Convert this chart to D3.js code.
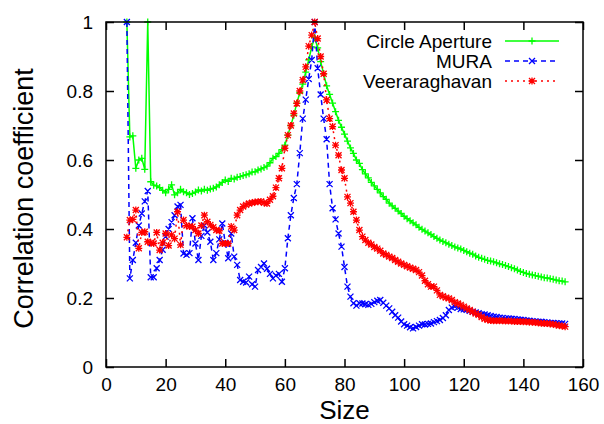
<!DOCTYPE html>
<html>
<head>
<meta charset="utf-8">
<script src="https://cdn.jsdelivr.net/npm/d3@7/dist/d3.min.js"></script>
<style>
  html, body { margin: 0; padding: 0; background: #fff; }
  svg { display: block; font-family: "Liberation Sans", Arial, Helvetica, sans-serif; }
</style>
</head>
<body>
<svg id="chart" width="604" height="424"></svg>
<script>
// Aperture sizes (x values)
const sizes = [
  7, 8, 9, 10, 11, 12, 13, 14, 15, 16, 17, 18, 19, 20, 21, 22, 23, 24, 25, 26,
  27, 28, 29, 30, 31, 32, 33, 34, 35, 36, 37, 38, 39, 40, 41, 42, 43, 44, 45, 46,
  47, 48, 49, 50, 51, 52, 53, 54, 55, 56, 57, 58, 59, 60, 61, 62, 63, 64, 65, 66,
  67, 68, 69, 70, 71, 72, 73, 74, 75, 76, 77, 78, 79, 80, 81, 82, 83, 84, 85, 86,
  87, 88, 89, 90, 91, 92, 93, 94, 95, 96, 97, 98, 99, 100, 101, 102, 103, 104, 105, 106,
  107, 108, 109, 110, 111, 112, 113, 114, 115, 116, 117, 118, 119, 120, 121, 122, 123, 124, 125, 126,
  127, 128, 129, 130, 131, 132, 133, 134, 135, 136, 137, 138, 139, 140, 141, 142, 143, 144, 145, 146,
  147, 148, 149, 150, 151, 152, 153, 154
];

// Correlation coefficient, circular aperture
const circleAperture = [
  1.0, 0.667, 0.67, 0.576, 0.60, 0.605, 0.573, 1.0, 0.537, 0.527, 0.525, 0.52, 0.512, 0.505, 0.515, 0.528, 0.499, 0.505, 0.515, 0.508,
  0.505, 0.50, 0.503, 0.507, 0.513, 0.51, 0.515, 0.512, 0.516, 0.518, 0.522, 0.528, 0.535, 0.542, 0.538, 0.547, 0.545, 0.55, 0.552, 0.555,
  0.557, 0.56, 0.565, 0.566, 0.571, 0.574, 0.578, 0.582, 0.592, 0.605, 0.61, 0.619, 0.63, 0.643, 0.672, 0.70, 0.73, 0.765, 0.795, 0.82,
  0.855, 0.89, 0.928, 0.955, 0.925, 0.885, 0.85, 0.815, 0.79, 0.765, 0.74, 0.715, 0.695, 0.675, 0.655, 0.635, 0.619, 0.60, 0.59, 0.572,
  0.56, 0.548, 0.535, 0.525, 0.515, 0.505, 0.494, 0.486, 0.475, 0.467, 0.46, 0.452, 0.445, 0.437, 0.43, 0.424, 0.418, 0.412, 0.405, 0.399,
  0.394, 0.389, 0.384, 0.378, 0.373, 0.368, 0.364, 0.36, 0.356, 0.352, 0.348, 0.345, 0.342, 0.338, 0.334, 0.33, 0.327, 0.322, 0.318, 0.315,
  0.312, 0.309, 0.307, 0.305, 0.302, 0.299, 0.297, 0.294, 0.291, 0.288, 0.285, 0.281, 0.277, 0.274, 0.271, 0.269, 0.267, 0.265, 0.263, 0.261,
  0.259, 0.258, 0.256, 0.254, 0.252, 0.25, 0.249, 0.247
];

// Correlation coefficient, MURA mask
const mura = [
  1.0, 0.257, 0.31, 0.36, 0.41, 0.445, 0.48, 0.51, 0.26, 0.26, 0.286, 0.31, 0.34, 0.378, 0.40, 0.42, 0.44, 0.465, 0.47, 0.329,
  0.325, 0.33, 0.431, 0.358, 0.31, 0.38, 0.41, 0.39, 0.363, 0.31, 0.33, 0.37, 0.416, 0.36, 0.315, 0.387, 0.32, 0.296, 0.252, 0.247,
  0.245, 0.262, 0.24, 0.233, 0.281, 0.29, 0.30, 0.285, 0.27, 0.257, 0.265, 0.27, 0.247, 0.286, 0.373, 0.44, 0.49, 0.53, 0.62, 0.72,
  0.775, 0.835, 0.89, 1.0, 0.866, 0.79, 0.72, 0.66, 0.53, 0.46, 0.428, 0.387, 0.349, 0.29, 0.233, 0.204, 0.185, 0.178, 0.185, 0.184,
  0.182, 0.18, 0.183, 0.188, 0.192, 0.194, 0.186, 0.178, 0.17, 0.16, 0.15, 0.143, 0.132, 0.124, 0.12, 0.115, 0.112, 0.116, 0.12, 0.124,
  0.123, 0.125, 0.126, 0.13, 0.133, 0.136, 0.142, 0.15, 0.165, 0.172, 0.175, 0.172, 0.168, 0.167, 0.166, 0.163, 0.16, 0.158, 0.156, 0.153,
  0.152, 0.15, 0.148, 0.146, 0.145, 0.143, 0.142, 0.141, 0.141, 0.14, 0.139, 0.138, 0.137, 0.136, 0.135, 0.134, 0.133, 0.132, 0.131, 0.131,
  0.13, 0.129, 0.128, 0.128, 0.127, 0.126, 0.126, 0.125
];

// Correlation coefficient, Veeraraghavan mask
const veeraraghavan = [
  0.376, 0.426, 0.428, 0.455, 0.344, 0.39, 0.392, 0.363, 0.36, 0.358, 0.39, 0.339, 0.36, 0.387, 0.352, 0.383, 0.372, 0.45, 0.354, 0.426,
  0.41, 0.407, 0.407, 0.397, 0.387, 0.41, 0.44, 0.421, 0.412, 0.405, 0.397, 0.395, 0.358, 0.358, 0.358, 0.407, 0.397, 0.44, 0.455, 0.465,
  0.47, 0.474, 0.476, 0.478, 0.479, 0.48, 0.476, 0.474, 0.485, 0.495, 0.52, 0.547, 0.576, 0.634, 0.672, 0.70, 0.735, 0.764, 0.80, 0.832,
  0.87, 0.93, 0.962, 1.0, 0.952, 0.90, 0.85, 0.774, 0.72, 0.697, 0.643, 0.614, 0.571, 0.547, 0.493, 0.475, 0.45, 0.426, 0.397, 0.378,
  0.368, 0.36, 0.355, 0.348, 0.343, 0.337, 0.329, 0.325, 0.32, 0.316, 0.31, 0.305, 0.30, 0.296, 0.292, 0.288, 0.285, 0.281, 0.275, 0.265,
  0.25, 0.24, 0.233, 0.233, 0.222, 0.209, 0.205, 0.201, 0.199, 0.194, 0.188, 0.184, 0.18, 0.175, 0.17, 0.165, 0.16, 0.155, 0.151, 0.145,
  0.14, 0.137, 0.135, 0.134, 0.134, 0.134, 0.134, 0.133, 0.133, 0.133, 0.132, 0.132, 0.132, 0.131, 0.131, 0.13, 0.13, 0.129, 0.128, 0.127,
  0.126, 0.126, 0.125, 0.124, 0.122, 0.12, 0.119, 0.117
];

const xTicks = [0, 20, 40, 60, 80, 100, 120, 140, 160];
const yTicks = [0, 0.2, 0.4, 0.6, 0.8, 1];
const seriesNames = ["Circle Aperture", "MURA", "Veeraraghavan"];

const svg = d3.select("#chart");
const margin = { left: 106, right: 21, top: 22, bottom: 57 };
const W = 604, H = 424;
const x = d3.scaleLinear().domain([0, 160]).range([margin.left, W - margin.right]);
const y = d3.scaleLinear().domain([0, 1]).range([H - margin.bottom, margin.top]);

const series = [
  { name: seriesNames[0], values: circleAperture, color: "#00ff00", dash: null, marker: "plus" },
  { name: seriesNames[1], values: mura, color: "#0000ff", dash: "5,4", marker: "cross" },
  { name: seriesNames[2], values: veeraraghavan, color: "#ff0000", dash: "2,4", marker: "star" }
];

// Point marker shapes (gnuplot style)
function markerPath(type, cx, cy) {
  const r = 3.5, c = 3;
  const plus = `M${cx - r},${cy}H${cx + r}M${cx},${cy - r}V${cy + r}`;
  const cross = `M${cx - c},${cy - c}L${cx + c},${cy + c}M${cx - c},${cy + c}L${cx + c},${cy - c}`;
  if (type === "plus") return plus;
  if (type === "cross") return cross;
  return plus + cross;
}

svg.append("defs").append("clipPath").attr("id", "plotClip")
  .append("rect")
  .attr("x", margin.left - 5).attr("y", margin.top - 5)
  .attr("width", W - margin.left - margin.right + 10)
  .attr("height", H - margin.top - margin.bottom + 10);

const plot = svg.append("g").attr("clip-path", "url(#plotClip)");

const line = d3.line()
  .x((d, i) => x(sizes[i]))
  .y(d => y(d));

series.forEach(s => {
  const g = plot.append("g");
  g.append("path")
    .attr("d", line(s.values))
    .attr("fill", "none")
    .attr("stroke", s.color)
    .attr("stroke-width", 1.5)
    .attr("stroke-dasharray", s.dash);
  g.append("path")
    .attr("d", s.values.map((v, i) => markerPath(s.marker, x(sizes[i]), y(v))).join(""))
    .attr("fill", "none")
    .attr("stroke", s.color)
    .attr("stroke-width", 1.3);
});

// Frame with inward ticks on all sides
const tickLen = 8;
const axisG = svg.append("g").attr("stroke", "#000").attr("stroke-width", 1.5);
axisG.append("rect")
  .attr("x", x(0)).attr("y", y(1))
  .attr("width", x(160) - x(0)).attr("height", y(0) - y(1))
  .attr("fill", "none");

const bottomAxis = d3.axisBottom(x).tickValues(xTicks).tickSize(-tickLen).tickFormat(d3.format("d")).tickPadding(11);
const topAxis = d3.axisTop(x).tickValues(xTicks).tickSize(-tickLen).tickFormat("");
const leftAxis = d3.axisLeft(y).tickValues(yTicks).tickSize(-tickLen).tickFormat(d => d === 0 || d === 1 ? d3.format("d")(d) : d3.format(".1f")(d)).tickPadding(13);
const rightAxis = d3.axisRight(y).tickValues(yTicks).tickSize(-tickLen).tickFormat("");

function styleAxis(g) {
  g.select(".domain").remove();
  g.selectAll(".tick line").attr("stroke", "#000").attr("stroke-width", 1.5);
  g.selectAll(".tick text").attr("fill", "#000").style("font-size", "19px")
    .style("font-family", "'Liberation Sans', Arial, sans-serif");
}

svg.append("g").attr("transform", `translate(0,${y(0)})`).call(bottomAxis).call(styleAxis);
svg.append("g").attr("transform", `translate(0,${y(1)})`).call(topAxis).call(styleAxis);
svg.append("g").attr("transform", `translate(${x(0)},0)`).call(leftAxis).call(styleAxis);
svg.append("g").attr("transform", `translate(${x(160)},0)`).call(rightAxis).call(styleAxis);

// Axis titles
svg.append("text")
  .attr("x", (x(0) + x(160)) / 2).attr("y", 419)
  .attr("text-anchor", "middle")
  .style("font-size", "26px")
  .text("Size");

svg.append("text")
  .attr("transform", `translate(33,${(y(0) + y(1)) / 2 + 4}) rotate(-90)`)
  .attr("text-anchor", "middle")
  .style("font-size", "27px")
  .text("Correlation coefficient");

// Legend
const legend = svg.append("g");
series.forEach((s, i) => {
  const cy = 41 + i * 20;
  legend.append("text")
    .attr("x", 492).attr("y", cy + 6.5)
    .attr("text-anchor", "end")
    .style("font-size", "19px")
    .text(s.name);
  legend.append("line")
    .attr("x1", 505).attr("x2", 559).attr("y1", cy).attr("y2", cy)
    .attr("stroke", s.color).attr("stroke-width", 1.5)
    .attr("stroke-dasharray", s.dash);
  legend.append("path")
    .attr("d", markerPath(s.marker, 532, cy))
    .attr("fill", "none").attr("stroke", s.color).attr("stroke-width", 1.3);
});
</script>
</body>
</html>
